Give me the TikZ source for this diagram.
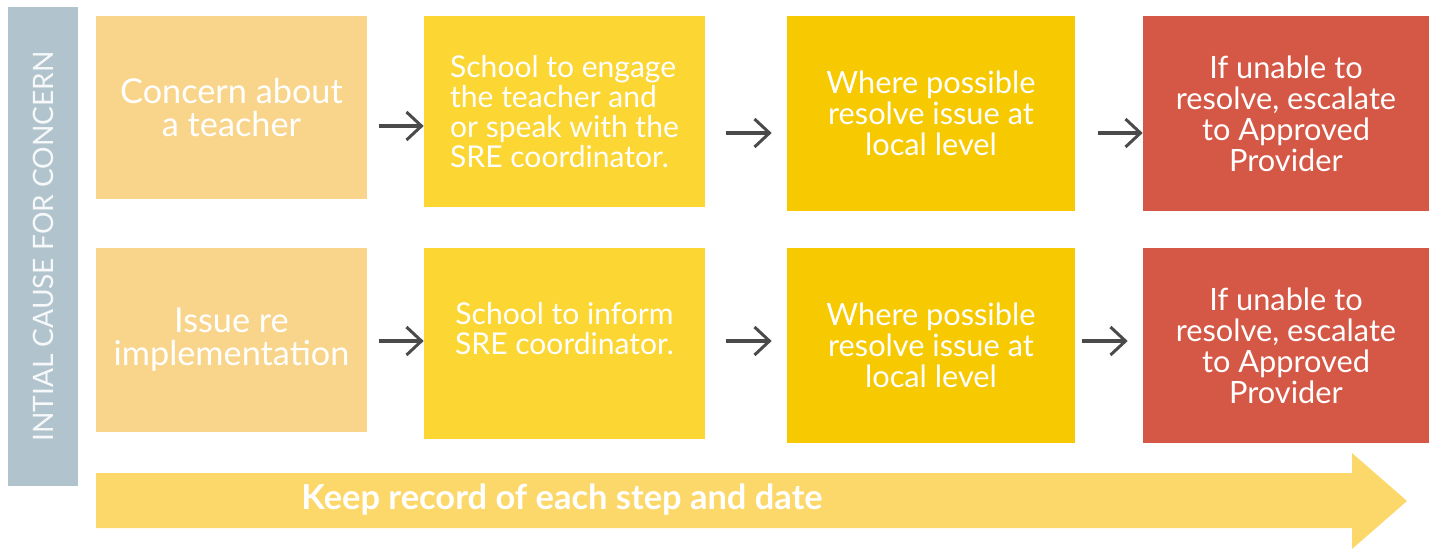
\documentclass[tikz,border=0pt]{standalone}
\usepackage{fontspec}
\setmainfont{Lato}
\usepackage{tikz}
\usetikzlibrary{arrows.meta}

\definecolor{sidegray}{HTML}{B1C4CD}
\definecolor{sand}{HTML}{F8D58A}
\definecolor{lemon}{HTML}{FCD633}
\definecolor{gold}{HTML}{F6C900}
\definecolor{brick}{HTML}{D55846}
\definecolor{trail}{HTML}{FCD86A}
\definecolor{flowgray}{HTML}{4A4A4A}

\tikzset{
  box/.style={fill=#1, text=white, align=center, inner sep=0pt},
  bigtext/.style={font=\fontsize{19.5}{18.7}\selectfont},
  midtext/.style={font=\fontsize{17.1}{17}\selectfont},
  smalltext/.style={font=\fontsize{17.5}{17.6}\selectfont},
  flow/.style={draw=flowgray, line width=2.2pt, -{Straight Barb[length=0.3cm, width=0.56cm, line width=1.7pt]}}
}

\begin{document}
\begin{tikzpicture}[x=0.02cm, y=-0.02cm]
\useasboundingbox (0,0) rectangle (1437,548);

\node[fill=sidegray, text=white!88!sidegray, rotate=90, minimum width=9.58cm, minimum height=1.4cm, font=\fontsize{16}{18}\selectfont] (side) at (43,246.5) {INTIAL CAUSE FOR CONCERN};

\fill[trail] (96,473) -- (1352,473) -- (1352,453) -- (1407,501) -- (1352,549) -- (1352,528) -- (96,528) -- cycle;
\node[text=white, font=\fontsize{19.6}{21}\selectfont\bfseries] (keep) at (562,500) {Keep record of each step and date};

\node[box=sand, bigtext, minimum width=5.42cm, minimum height=3.66cm] (c11) at (231.5,107.5) {Concern about\\a teacher};
\node[box=lemon, midtext, minimum width=5.62cm, minimum height=3.82cm, align=left] (c12) at (564.5,111.5) {School to engage\\the teacher and\\or speak with the\\SRE coordinator.};
\node[box=gold, smalltext, minimum width=5.76cm, minimum height=3.9cm] (c13) at (931,113.5) {Where possible\\resolve issue at\\local level};
\node[box=brick, smalltext, minimum width=5.72cm, minimum height=3.9cm] (c14) at (1286,113.5) {If unable to\\resolve, escalate\\to Approved\\Provider};

\node[box=sand, bigtext, minimum width=5.42cm, minimum height=3.68cm] (c21) at (231.5,340) {Issue re\\implementation};
\node[box=lemon, midtext, minimum width=5.62cm, minimum height=3.82cm] (c22) at (564.5,343.5) {School to inform\\SRE coordinator.\\\mbox{}};
\node[box=gold, smalltext, minimum width=5.76cm, minimum height=3.9cm] (c23) at (931,345.5) {Where possible\\resolve issue at\\local level};
\node[box=brick, smalltext, minimum width=5.72cm, minimum height=3.9cm] (c24) at (1286,345.5) {If unable to\\resolve, escalate\\to Approved\\Provider};

\draw[flow, shorten <=0.24cm] (c11.east |- 0,126) -- (c12.west |- 0,126);
\draw[flow, shorten <=0.42cm, shorten >=0.3cm] (c12.east |- 0,133) -- (c13.west |- 0,133);
\draw[flow, shorten <=0.46cm] (c13.east |- 0,133) -- (c14.west |- 0,133);

\draw[flow, shorten <=0.24cm] (c21.east |- 0,341) -- (c22.west |- 0,341);
\draw[flow, shorten <=0.42cm, shorten >=0.3cm] (c22.east |- 0,341) -- (c23.west |- 0,341);
\draw[flow, shorten <=0.14cm, shorten >=0.3cm] (c23.east |- 0,341) -- (c24.west |- 0,341);
\end{tikzpicture}
\end{document}
